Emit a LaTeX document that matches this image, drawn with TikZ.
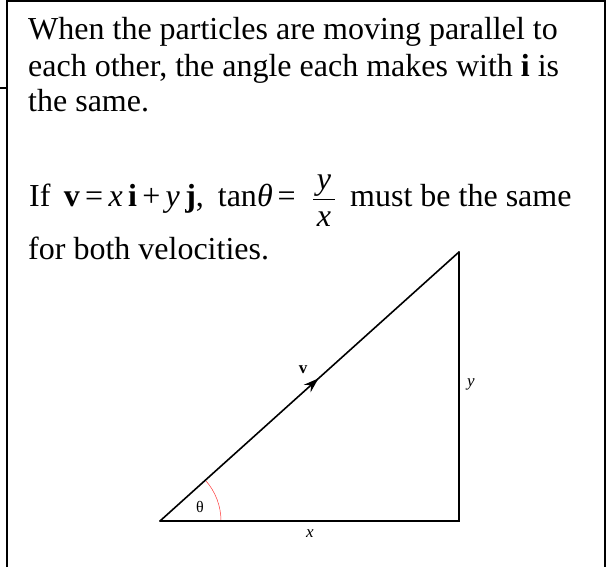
\documentclass[tikz,border=0pt]{standalone}
\usepackage{fontspec}
\setmainfont{Liberation Serif}
\usetikzlibrary{arrows.meta,decorations.markings,calc}

\tikzset{
  txt/.style={anchor=base west, inner sep=0pt, font=\fontsize{32}{36}\selectfont},
  frac/.style={anchor=base, inner sep=0pt, font=\fontsize{32}{36}\selectfont\itshape},
  lbl/.style={inner sep=1pt, font=\fontsize{17}{20}\selectfont},
  frame/.style={line width=1.6pt},
  side/.style={line width=1.6pt, line cap=round},
}

\begin{document}
\begin{tikzpicture}[x=1pt,y=1pt]
  \useasboundingbox (0,0) rectangle (607,567);

  % box round the notes
  \draw[frame] (7,0) -- (7,566) -- (605,566) -- (605,0);
  \draw[frame] (0,479) -- (7,479);

  % text
  \node[txt] (line1) at (28,527) {When the particles are moving parallel to};
  \node[txt] (line2) at (28,490) {each other, the angle each makes with \textbf{i} is};
  \node[txt] (line3) at (28,455) {the same.};
  \node[txt] (line4) at (29,360) {If\, \textbf{v}\,=\,\textit{x}\,\textbf{i}\,+\,\textit{y}\,\textbf{j},\hspace{6pt} tan\textit{θ}\hspace{5pt}=};
  \node[frac] (fnum) at (324,377) {y};
  \node[frac] (fden) at (324,340) {x};
  \draw[line width=0.9pt] (313,368) -- (335,368);
  \node[txt] (line4b) at (350,360) {must be the same};
  \node[txt] (line5) at (28,307) {for both velocities.};

  % triangle
  \coordinate (A) at (160,46);
  \coordinate (B) at (459,46);
  \coordinate (C) at (459,315);

  \draw[red!80!white, line width=0.5pt] ($(A)+(61,0)$) arc[start angle=0, end angle=42, radius=61];
  \draw[side] (A) -- (B) -- (C);
  \draw[side, decoration={markings, mark=at position 0.53 with {\arrow{Stealth[length=15pt,width=10pt]}}}, postaction={decorate}] (A) -- (C);

  % labels
  \node[lbl] (vlab) at (303,197) {\textbf{v}};
  \node[lbl] (ylab) at (471,183) {\textit{y}};
  \node[lbl] (xlab) at (310,33) {\textit{x}};
  \node[lbl, font=\fontsize{16}{18}\selectfont] (thlab) at (200,60) {θ};
\end{tikzpicture}
\end{document}
